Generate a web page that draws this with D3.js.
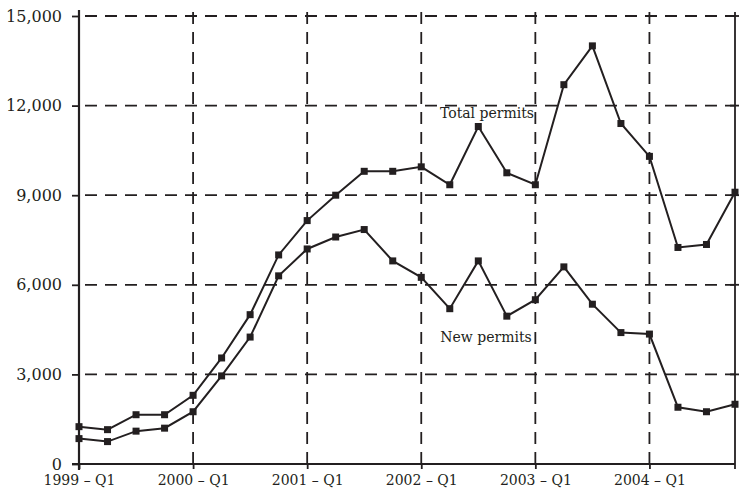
<!DOCTYPE html>
<html>
<head>
<meta charset="utf-8">
<script src="https://cdn.jsdelivr.net/npm/d3@7"></script>
<style>
body { margin: 0; background: #fff; }
svg text { font-family: "DejaVu Serif", serif; fill: #231f20; }
</style>
</head>
<body>
<div id="drawingArea"></div>
<script>
var quarters = [
  "1999 – Q1", "1999 – Q2", "1999 – Q3", "1999 – Q4",
  "2000 – Q1", "2000 – Q2", "2000 – Q3", "2000 – Q4",
  "2001 – Q1", "2001 – Q2", "2001 – Q3", "2001 – Q4",
  "2002 – Q1", "2002 – Q2", "2002 – Q3", "2002 – Q4",
  "2003 – Q1", "2003 – Q2", "2003 – Q3", "2003 – Q4",
  "2004 – Q1", "2004 – Q2", "2004 – Q3", "2004 – Q4"
];

var totalPermits = [
  1250, 1150, 1650, 1650, 2300, 3550, 5000, 7000,
  8150, 9000, 9800, 9800, 9950, 9350, 11300, 9750,
  9350, 12700, 14000, 11400, 10300, 7250, 7350, 9100
];

var newPermits = [
  850, 750, 1100, 1200, 1750, 2950, 4250, 6300,
  7200, 7600, 7850, 6800, 6250, 5200, 6800, 4950,
  5500, 6600, 5350, 4400, 4350, 1900, 1750, 2000
];

var xTickLabels = ["1999 – Q1", "2000 – Q1", "2001 – Q1", "2002 – Q1", "2003 – Q1", "2004 – Q1"];
var yTicks = [0, 3000, 6000, 9000, 12000, 15000];

var ink = "#231f20";

// plot box
var margin = {top: 16, right: 5, bottom: 28, left: 79},
    width = 740 - margin.left - margin.right,
    height = 492 - margin.top - margin.bottom;

var svg = d3.select("#drawingArea").append("svg")
    .attr("width", 740)
    .attr("height", 492)
  .append("g")
    .attr("transform", "translate(" + margin.left + "," + margin.top + ")");

var x = d3.scalePoint()
    .domain(quarters)
    .range([0, width]);

var y = d3.scaleLinear()
    .domain([0, 15000])
    .range([height, 0]);

// dashed grid
svg.selectAll(".hgrid")
    .data(yTicks.slice(1))
    .enter().append("line")
    .attr("x1", 0).attr("x2", width)
    .attr("y1", function(d) { return y(d); })
    .attr("y2", function(d) { return y(d); })
    .attr("stroke", ink)
    .attr("stroke-width", 1.8)
    .attr("stroke-dasharray", "12,8")
    .attr("stroke-dashoffset", -6);

svg.selectAll(".vgrid")
    .data(xTickLabels.slice(1))
    .enter().append("line")
    .attr("x1", function(d) { return x(d); })
    .attr("x2", function(d) { return x(d); })
    .attr("y1", -4).attr("y2", height)
    .attr("stroke", ink)
    .attr("stroke-width", 1.8)
    .attr("stroke-dasharray", "12,8");

// left axis
var yAxis = svg.append("g")
    .call(d3.axisLeft(y).tickValues(yTicks).tickFormat(d3.format(",")).tickSize(7).tickSizeOuter(0).tickPadding(10));
yAxis.select(".domain").remove();
yAxis.selectAll("line").attr("stroke", ink).attr("stroke-width", 1.8);
yAxis.selectAll("text").attr("font-size", 16).attr("fill", ink);

svg.append("line")
    .attr("x1", 0).attr("x2", 0)
    .attr("y1", -6).attr("y2", height + 6)
    .attr("stroke", ink).attr("stroke-width", 2.2);

// right border with crossing ticks
svg.append("line")
    .attr("x1", width).attr("x2", width)
    .attr("y1", -4).attr("y2", height + 5)
    .attr("stroke", ink).attr("stroke-width", 1.8);

svg.selectAll(".rtick")
    .data(yTicks.slice(1))
    .enter().append("line")
    .attr("x1", width - 5).attr("x2", width + 4)
    .attr("y1", function(d) { return y(d); })
    .attr("y2", function(d) { return y(d); })
    .attr("stroke", ink).attr("stroke-width", 1.8);

// bottom axis
var xAxis = svg.append("g")
    .attr("transform", "translate(0," + height + ")")
    .call(d3.axisBottom(x).tickValues(xTickLabels).tickSize(5).tickSizeOuter(0).tickPadding(6));
xAxis.select(".domain").remove();
xAxis.selectAll("line").attr("stroke", ink).attr("stroke-width", 1.8);
xAxis.selectAll("text").attr("font-size", 14).attr("fill", ink);

svg.append("line")
    .attr("x1", -7).attr("x2", width)
    .attr("y1", height).attr("y2", height)
    .attr("stroke", ink).attr("stroke-width", 2.2);

// series
var line = d3.line()
    .x(function(d, i) { return x(quarters[i]); })
    .y(function(d) { return y(d); });

[totalPermits, newPermits].forEach(function(series) {
    svg.append("path")
        .datum(series)
        .attr("fill", "none")
        .attr("stroke", ink)
        .attr("stroke-width", 2)
        .attr("d", line);

    svg.selectAll(null)
        .data(series)
        .enter().append("rect")
        .attr("x", function(d, i) { return x(quarters[i]) - 3.5; })
        .attr("y", function(d) { return y(d) - 3.5; })
        .attr("width", 7)
        .attr("height", 7)
        .attr("fill", ink);
});

// labels
svg.append("text")
    .attr("x", 487 - margin.left)
    .attr("y", 118 - margin.top)
    .attr("text-anchor", "middle")
    .attr("font-size", 14)
    .text("Total permits");

svg.append("text")
    .attr("x", 486 - margin.left)
    .attr("y", 342 - margin.top)
    .attr("text-anchor", "middle")
    .attr("font-size", 14)
    .text("New permits");
</script>
</body>
</html>
